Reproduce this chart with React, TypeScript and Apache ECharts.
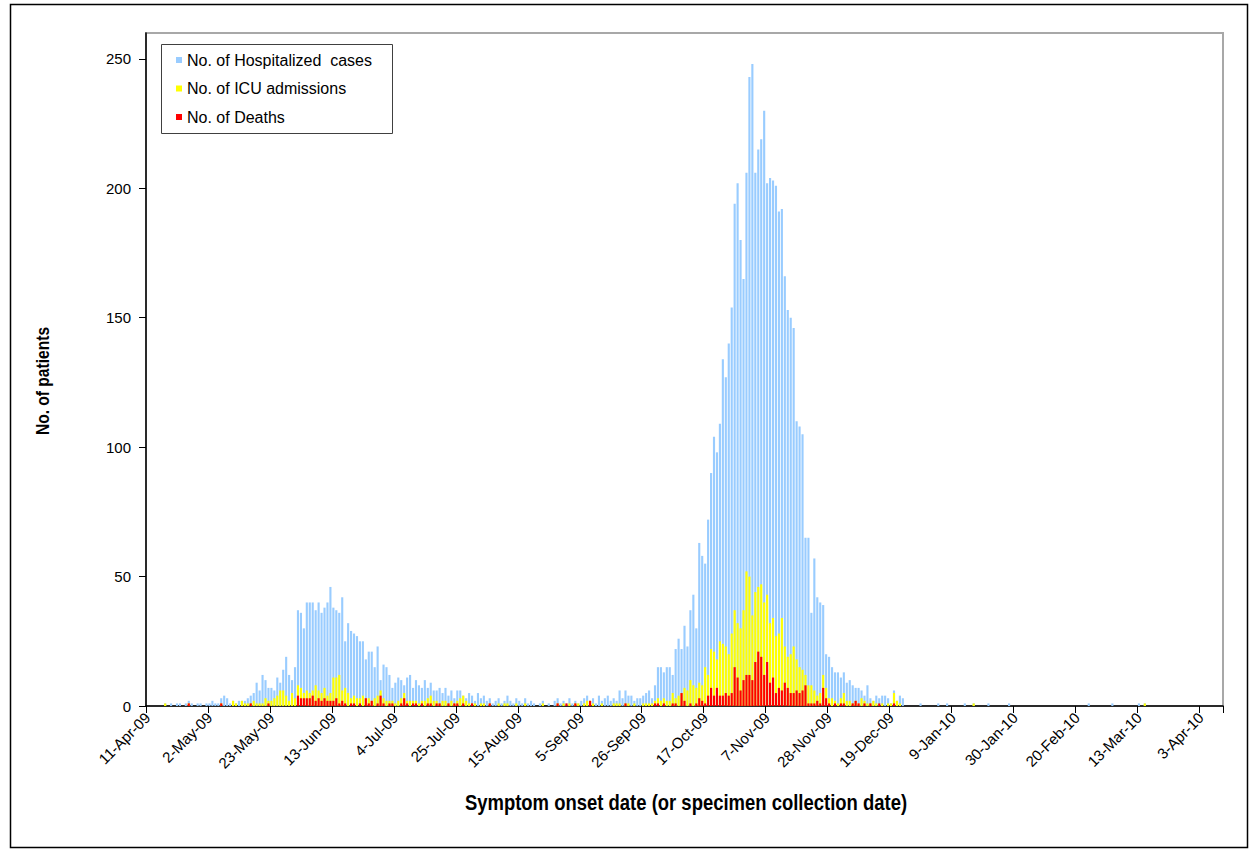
import React, { useEffect, useRef } from "react";
import * as echarts from "echarts";

// ---- categories: one per day, 11-Apr-09 .. 10-Apr-10 ----
const MONTHS = ["Jan", "Feb", "Mar", "Apr", "May", "Jun", "Jul", "Aug", "Sep", "Oct", "Nov", "Dec"];
const DAY_COUNT = 365;
function buildCategories(): string[] {
  const out: string[] = [];
  const start = Date.UTC(2009, 3, 11);
  for (let i = 0; i < DAY_COUNT; i++) {
    const d = new Date(start + i * 86400000);
    const yy = String(d.getUTCFullYear() % 100).padStart(2, "0");
    out.push(`${d.getUTCDate()}-${MONTHS[d.getUTCMonth()]}-${yy}`);
  }
  return out;
}
const categories = buildCategories();

const tickLabels = [
  "11-Apr-09", "2-May-09", "23-May-09", "13-Jun-09", "4-Jul-09", "25-Jul-09",
  "15-Aug-09", "5-Sep-09", "26-Sep-09", "17-Oct-09", "7-Nov-09", "28-Nov-09",
  "19-Dec-09", "9-Jan-10", "30-Jan-10", "20-Feb-10", "13-Mar-10", "3-Apr-10",
];
const TICK_STEP = 21;

const yTicks = [0, 50, 100, 150, 200, 250];

// ---- series values (per day) ----
const hospitalized = [
  0, 0, 0, 0, 0, 0, 1, 0, 1, 0,
  1, 1, 0, 1, 2, 1, 0, 1, 1, 0,
  1, 1, 2, 1, 1, 3, 4, 3, 1, 2,
  1, 2, 2, 2, 3, 4, 5, 9, 6, 12,
  10, 7, 7, 6, 11, 9, 14, 19, 12, 10,
  15, 37, 36, 30, 40, 40, 40, 37, 40, 36,
  38, 40, 46, 38, 37, 36, 42, 25, 32, 29,
  28, 27, 25, 25, 18, 21, 21, 15, 23, 10,
  16, 15, 12, 7, 9, 11, 10, 8, 11, 12,
  7, 10, 8, 7, 10, 7, 9, 6, 6, 7,
  5, 7, 4, 6, 3, 6, 6, 4, 3, 5,
  4, 2, 5, 3, 4, 2, 3, 1, 2, 3,
  1, 2, 4, 2, 1, 3, 2, 1, 3, 1,
  2, 1, 0, 1, 2, 0, 1, 0, 2, 3,
  1, 2, 1, 3, 1, 2, 1, 2, 3, 4,
  2, 3, 1, 4, 2, 3, 4, 2, 3, 2,
  6, 3, 6, 4, 4, 2, 3, 3, 4, 5,
  6, 3, 8, 15, 15, 13, 15, 15, 12, 22,
  26, 22, 31, 23, 37, 43, 30, 63, 58, 55,
  72, 90, 104, 98, 109, 134, 127, 140, 154, 194,
  202, 180, 165, 206, 243, 248, 206, 215, 219, 230,
  202, 204, 203, 201, 191, 192, 166, 153, 150, 146,
  110, 108, 105, 65, 65, 36, 57, 42, 40, 39,
  20, 19, 15, 13, 13, 11, 13, 9, 10, 8,
  7, 7, 6, 4, 8, 3, 2, 4, 3, 4,
  4, 3, 1, 6, 2, 4, 3, 0, 0, 0,
  0, 0, 1, 0, 0, 0, 0, 0, 1, 0,
  0, 1, 0, 0, 0, 0, 0, 1, 0, 0,
  1, 0, 0, 0, 0, 1, 0, 0, 0, 0,
  0, 0, 1, 0, 0, 0, 0, 0, 0, 0,
  0, 0, 0, 0, 0, 0, 0, 0, 0, 0,
  0, 0, 0, 0, 0, 0, 0, 0, 0, 1,
  0, 0, 0, 0, 0, 0, 0, 1, 0, 0,
  0, 0, 0, 0, 0, 0, 1, 0, 1, 0,
  0, 0, 0, 0, 0, 0, 0, 0, 0, 0,
  0, 0, 0, 0, 0, 0, 0, 0, 0, 0,
  0, 0, 0, 0, 0,
];

const icuAdmissions = [
  0, 0, 0, 0, 0, 0, 1, 0, 0, 0,
  0, 0, 0, 0, 1, 0, 0, 0, 0, 0,
  0, 0, 0, 0, 0, 1, 0, 0, 0, 2,
  1, 0, 2, 1, 1, 1, 2, 1, 1, 1,
  3, 2, 2, 3, 4, 6, 6, 4, 2, 5,
  3, 8, 7, 5, 6, 5, 6, 8, 6, 5,
  7, 4, 5, 11, 11, 12, 6, 7, 5, 3,
  4, 3, 3, 4, 3, 3, 2, 3, 4, 6,
  3, 2, 2, 2, 1, 2, 3, 5, 2, 2,
  2, 2, 1, 2, 2, 3, 4, 2, 2, 1,
  2, 2, 1, 2, 1, 2, 3, 4, 2, 1,
  1, 1, 0, 1, 1, 0, 1, 0, 0, 1,
  0, 1, 1, 0, 0, 1, 0, 0, 1, 0,
  0, 0, 0, 0, 1, 0, 0, 0, 0, 1,
  0, 1, 0, 1, 0, 1, 1, 0, 1, 2,
  2, 1, 0, 0, 1, 0, 0, 0, 1, 1,
  1, 0, 1, 1, 0, 1, 0, 0, 1, 1,
  1, 1, 2, 3, 2, 3, 2, 2, 5, 3,
  4, 5, 7, 6, 10, 8, 7, 9, 8, 15,
  12, 22, 21, 18, 25, 24, 23, 20, 28, 37,
  32, 30, 37, 52, 50, 35, 44, 46, 47, 40,
  43, 32, 34, 27, 28, 34, 23, 19, 20, 23,
  18, 15, 14, 12, 8, 8, 6, 4, 5, 12,
  7, 3, 3, 2, 1, 3, 5, 2, 2, 1,
  2, 1, 3, 2, 1, 1, 2, 1, 0, 1,
  0, 1, 1, 5, 2, 1, 0, 0, 0, 0,
  0, 0, 0, 0, 0, 0, 0, 0, 0, 0,
  0, 0, 0, 0, 0, 0, 0, 0, 0, 0,
  1, 0, 0, 0, 0, 0, 0, 0, 0, 0,
  0, 0, 0, 0, 0, 0, 0, 0, 0, 0,
  0, 0, 0, 0, 0, 0, 0, 0, 0, 0,
  0, 0, 0, 0, 0, 0, 0, 0, 0, 0,
  0, 0, 0, 0, 0, 0, 0, 0, 0, 0,
  0, 0, 0, 0, 0, 0, 0, 0, 1, 0,
  0, 0, 0, 0, 0, 0, 0, 0, 0, 0,
  0, 0, 0, 0, 0, 0, 0, 0, 0, 0,
  0, 0, 0, 0, 0,
];

const deaths = [
  0, 0, 0, 0, 0, 0, 0, 0, 0, 0,
  0, 0, 0, 0, 1, 0, 0, 0, 0, 0,
  0, 0, 0, 0, 0, 1, 0, 0, 0, 0,
  0, 0, 0, 0, 0, 1, 0, 0, 0, 0,
  0, 1, 0, 0, 0, 0, 0, 0, 0, 0,
  0, 4, 3, 3, 3, 3, 4, 2, 3, 2,
  3, 2, 2, 2, 3, 1, 2, 1, 0, 1,
  1, 0, 1, 0, 3, 1, 2, 0, 1, 4,
  1, 0, 1, 1, 0, 0, 1, 3, 1, 0,
  1, 1, 0, 1, 0, 1, 1, 0, 1, 1,
  0, 0, 1, 0, 1, 1, 0, 1, 0, 0,
  1, 0, 0, 0, 0, 0, 1, 0, 0, 0,
  0, 0, 0, 0, 0, 0, 0, 0, 0, 0,
  0, 0, 0, 0, 0, 0, 0, 0, 0, 1,
  0, 0, 1, 0, 0, 1, 0, 0, 0, 0,
  2, 0, 0, 0, 0, 0, 0, 0, 0, 0,
  0, 0, 1, 0, 0, 0, 0, 0, 0, 0,
  0, 0, 1, 1, 0, 1, 0, 0, 1, 1,
  0, 5, 2, 0, 1, 0, 1, 3, 2, 1,
  4, 7, 4, 7, 4, 4, 5, 4, 5, 15,
  11, 6, 10, 12, 12, 10, 17, 21, 19, 12,
  17, 9, 11, 5, 7, 6, 9, 7, 5, 5,
  6, 5, 6, 8, 1, 1, 1, 2, 1, 7,
  3, 1, 0, 1, 0, 1, 1, 0, 0, 1,
  2, 1, 0, 1, 0, 1, 0, 0, 1, 0,
  0, 0, 0, 1, 0, 0, 0, 0, 0, 0,
  0, 0, 0, 0, 0, 0, 0, 0, 0, 0,
  0, 0, 0, 0, 0, 0, 0, 0, 0, 0,
  0, 0, 0, 0, 0, 0, 0, 0, 0, 0,
  0, 0, 0, 0, 0, 0, 0, 0, 0, 0,
  0, 0, 0, 0, 0, 0, 0, 0, 0, 0,
  0, 0, 0, 0, 0, 0, 0, 0, 0, 0,
  0, 0, 0, 0, 0, 0, 0, 0, 0, 0,
  0, 0, 0, 0, 0, 0, 0, 0, 0, 0,
  0, 0, 0, 0, 0, 0, 0, 0, 0, 0,
  0, 0, 0, 0, 0, 0, 0, 0, 0, 0,
  0, 0, 0, 0, 0,
];

const seriesNames = ["No. of Hospitalized  cases", "No. of ICU admissions", "No. of Deaths"];
const seriesColors = ["#99CCFF", "#FFFF00", "#FF0000"];

const FONT = "'Liberation Sans', Arial, sans-serif";

export default function App() {
  const ref = useRef<HTMLDivElement>(null);

  useEffect(() => {
    if (!ref.current) return;
    const chart = echarts.init(ref.current, undefined, { renderer: "svg" });
    const showTick = (i: number) => i % TICK_STEP === 0 && i / TICK_STEP < tickLabels.length;

    const mkBar = (idx: number, data: number[]) => ({
      name: seriesNames[idx],
      type: "bar",
      data,
      barGap: "-100%",
      barCategoryGap: "28%",
      itemStyle: { color: seriesColors[idx] },
      z: 2 + idx,
    });

    chart.setOption({
      animation: false,
      backgroundColor: "#ffffff",
      grid: {
        left: 146,
        right: 34,
        top: 33,
        bottom: 148,
        show: true,
        borderColor: "#A8A8A8",
        borderWidth: 2,
        containLabel: false,
      },
      legend: {
        orient: "vertical",
        left: 176,
        top: 52,
        padding: 0,
        itemWidth: 6,
        itemHeight: 6,
        itemGap: 12.5,
        icon: "rect",
        data: seriesNames,
        textStyle: { fontSize: 16, fontFamily: FONT, color: "#000", lineHeight: 16 },
      },
      xAxis: {
        type: "category",
        data: categories,
        boundaryGap: true,
        axisLine: { show: true, lineStyle: { color: "#000", width: 1.5 } },
        axisTick: {
          show: true,
          interval: (i: number) => showTick(i),
          length: 7,
          lineStyle: { color: "#000", width: 1 },
        },
        axisLabel: {
          interval: (i: number) => showTick(i),
          formatter: (_v: string, i: number) => tickLabels[i / TICK_STEP] ?? "",
          rotate: 45,
          margin: 9,
          fontSize: 15,
          fontFamily: FONT,
          color: "#000",
        },
        splitLine: { show: false },
      },
      yAxis: {
        type: "value",
        min: 0,
        max: 260,
        interval: 50,
        axisLine: { show: true, lineStyle: { color: "#000", width: 1.5 } },
        axisTick: { show: true, length: 7, customValues: yTicks, lineStyle: { color: "#000" } },
        axisLabel: {
          customValues: yTicks,
          margin: 15,
          fontSize: 15,
          fontFamily: FONT,
          color: "#000",
        },
        splitLine: { show: false },
      },
      graphic: [
        {
          type: "rect",
          shape: { x: 10.5, y: 4.5, width: 1237, height: 843 },
          style: { fill: "transparent", stroke: "#000", lineWidth: 1.5 },
          silent: true,
          z: 0,
        },
        {
          type: "rect",
          shape: { x: 161.5, y: 44.5, width: 231, height: 89 },
          style: { fill: "#fff", stroke: "#404040", lineWidth: 1 },
          silent: true,
          z: 1,
        },
        {
          type: "text",
          x: 686,
          y: 802,
          scaleX: 0.84,
          style: {
            text: "Symptom onset date (or specimen collection date)",
            font: `bold 22px ${FONT}`,
            fill: "#000",
            textAlign: "center",
            textVerticalAlign: "middle",
          },
          z: 5,
        },
        {
          type: "text",
          x: 42,
          y: 381,
          rotation: Math.PI / 2,
          scaleX: 0.82,
          style: {
            text: "No. of patients",
            font: `bold 19px ${FONT}`,
            fill: "#000",
            textAlign: "center",
            textVerticalAlign: "middle",
          },
          z: 5,
        },
      ],
      series: [mkBar(0, hospitalized), mkBar(1, icuAdmissions), mkBar(2, deaths)],
    });

    return () => chart.dispose();
  }, []);

  return (
    <div
      ref={ref}
      style={{ position: "absolute", left: 0, top: 0, width: 1257, height: 854, background: "#fff" }}
    />
  );
}
